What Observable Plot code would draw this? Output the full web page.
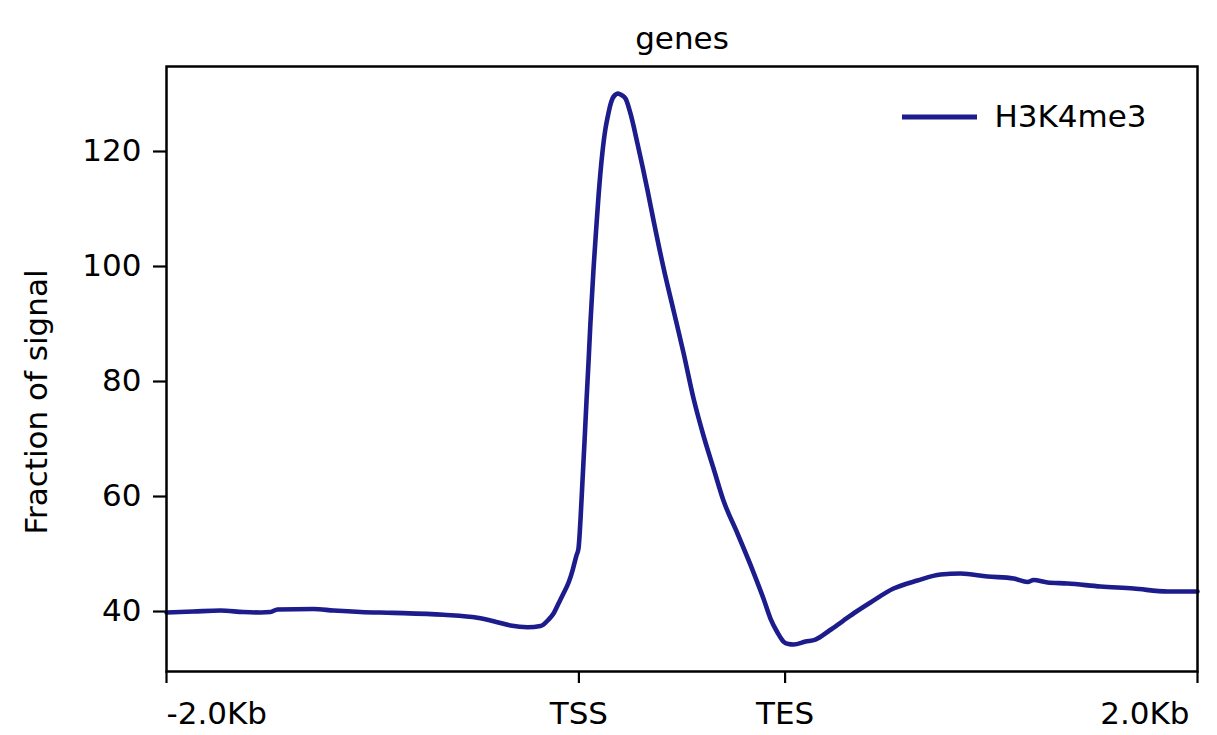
<!DOCTYPE html>
<html>
<head>
<meta charset="utf-8">
<script src="https://cdn.jsdelivr.net/npm/d3@7"></script>
<script src="https://cdn.jsdelivr.net/npm/@observablehq/plot@0.6"></script>
<style>
  html, body { margin: 0; padding: 0; background: #fff; }
  svg { font-family: "DejaVu Sans", sans-serif; }
</style>
</head>
<body>
<div id="chart"></div>
<script>
// Positions along the meta-gene (bp-scaled: -2kb upstream .. TSS .. TES .. +2kb)
const position = [0,131,262,373,456,504,538,713,810,941,1101,1343,1508,1586,1668,1751,1814,1853,1877,1901,1925,1950,1969,1988,1998,2008,2017,2027,2037,2047,2056,2071,2085,2095,2114,2129,2139,2153,2163,2178,2187,2202,2226,2250,2284,2333,2362,2410,2459,2507,2556,2604,2653,2701,2769,2847,2895,2929,2963,2992,3017,3041,3099,3147,3215,3283,3346,3414,3526,3642,3754,3851,3982,4108,4176,4205,4273,4370,4530,4690,4855,5000];
// H3K4me3 signal
const h3k4me3 = [39.83,40.0,40.17,39.91,39.83,39.91,40.35,40.43,40.17,39.91,39.77,39.43,38.90,38.31,37.57,37.27,37.48,38.61,39.65,41.39,43.13,45.04,47.13,49.74,50.96,56.17,62.43,69.39,76.70,83.65,90.26,99.65,107.13,112.17,119.83,124.0,125.91,128.17,129.22,129.91,130.09,129.91,129.22,126.61,121.39,113.22,108.0,99.83,92.35,85.04,77.04,70.61,64.87,59.30,53.57,46.78,42.26,38.78,36.35,34.78,34.35,34.26,34.78,35.13,36.70,38.43,40.0,41.57,44.0,45.39,46.43,46.61,46.09,45.74,45.14,45.47,45.04,44.87,44.35,44.0,43.48,43.48];
const xTickPos = [0, 2000, 3000, 5000];
const xTickLabels = ["-2.0Kb", "TSS", "TES", "2.0Kb"];
const yTicks = [40, 60, 80, 100, 120];
const seriesName = "H3K4me3";
const title = "genes";
const yLabel = "Fraction of signal";

const color = "#1c1c8c";
const fs = 31;
const font = "'DejaVu Sans', sans-serif";

const data = position.map((x, i) => ({x, y: h3k4me3[i]}));
const xt = xTickPos.map((p, i) => ({p, label: xTickLabels[i], i}));

const legendLine = (index, scales, values, dim) => {
  const x2 = dim.width - dim.marginRight - 220;
  const y = dim.marginTop + 51;
  return d3.create("svg:line")
    .attr("x1", x2 - 75).attr("x2", x2)
    .attr("y1", y).attr("y2", y)
    .attr("stroke", color).attr("stroke-width", 5)
    .node();
};

const chart = Plot.plot({
  width: 1217,
  height: 735,
  marginLeft: 166,
  marginRight: 20,
  marginTop: 66,
  marginBottom: 64,
  style: {fontFamily: font, background: "#fff"},
  x: {domain: [0, 5000]},
  y: {domain: [29.57, 134.78]},
  marks: [
    Plot.axisY({ticks: yTicks, tickSize: 13, tickPadding: 12, fontSize: fs, strokeWidth: 2.2, label: null, color: "#000"}),
    Plot.axisX({ticks: xTickPos, tickSize: 12, tickFormat: () => "", strokeWidth: 2.2, label: null, color: "#000"}),
    Plot.line(data, {x: "x", y: "y", stroke: color, strokeWidth: 4.6, curve: "monotone-x"}),
    Plot.frame({stroke: "#000", strokeWidth: 2.5}),
    Plot.text(xt.filter(d => d.i === 0), {x: "p", text: "label", frameAnchor: "bottom", dy: 52, lineAnchor: "bottom", textAnchor: "start", fontSize: fs, fill: "#000"}),
    Plot.text(xt.filter(d => d.i === 1 || d.i === 2), {x: "p", text: "label", frameAnchor: "bottom", dy: 52, lineAnchor: "bottom", textAnchor: "middle", fontSize: fs, fill: "#000"}),
    Plot.text(xt.filter(d => d.i === 3), {x: "p", text: "label", frameAnchor: "bottom", dy: 52, lineAnchor: "bottom", textAnchor: "end", dx: -8, fontSize: fs, fill: "#000"}),
    Plot.text([title], {frameAnchor: "top", dy: -18, lineAnchor: "bottom", fontSize: fs, fill: "#000"}),
    Plot.text([yLabel], {frameAnchor: "left", dx: -129, dy: 33, rotate: -90, textAnchor: "middle", lineAnchor: "middle", fontSize: fs, fill: "#000"}),
    Plot.text([seriesName], {frameAnchor: "top-right", dx: -203, dy: 51, textAnchor: "start", lineAnchor: "middle", fontSize: fs, fill: "#000"}),
    legendLine
  ]
});
document.getElementById("chart").appendChild(chart);
</script>
</body>
</html>
